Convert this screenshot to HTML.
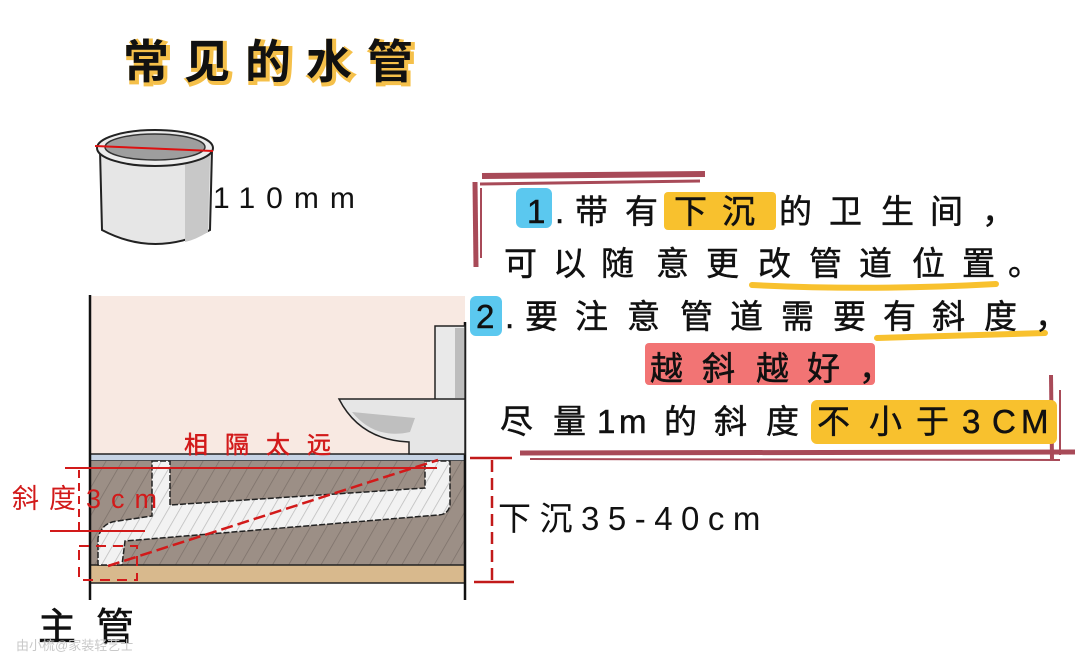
<!DOCTYPE html>
<html><head><meta charset="utf-8"><style>
html,body{margin:0;padding:0;background:#fff;width:1080px;height:670px;overflow:hidden}
svg{display:block}
text{font-family:"Liberation Sans","Noto Sans CJK SC",sans-serif}
</style></head><body>
<svg width="1080" height="670" viewBox="0 0 1080 670" xmlns="http://www.w3.org/2000/svg">
<defs>
<pattern id="h" width="14" height="14" patternUnits="userSpaceOnUse" patternTransform="rotate(30)">
<rect width="14" height="14" fill="#9c8f86"/><line x1="0" y1="0" x2="0" y2="14" stroke="#7d716a" stroke-width="1.5"/></pattern>
<pattern id="hp" width="10" height="10" patternUnits="userSpaceOnUse" patternTransform="rotate(30)">
<rect width="10" height="10" fill="#f2f2f2"/><line x1="0" y1="0" x2="0" y2="10" stroke="#bbb" stroke-width="1.5"/></pattern>
</defs>
<!-- title -->
<text x="125" y="80" font-size="46" font-weight="bold" fill="#f5c04a" letter-spacing="15" stroke="#f5c04a" stroke-width="4">常见的水管</text>
<text x="123" y="78" font-size="46" font-weight="bold" fill="#111" letter-spacing="15">常见的水管</text>
<!-- cup -->
<path d="M100 150 L102 230 Q155 258 210 230 L212 150 Z" fill="#e6e6e6" stroke="#222" stroke-width="2"/>
<path d="M185 160 L210 155 L208 232 Q195 240 185 242 Z" fill="#c8c8c8"/>
<ellipse cx="155" cy="148" rx="58" ry="18" fill="#ececec" stroke="#222" stroke-width="2"/>
<ellipse cx="155" cy="147" rx="50" ry="13" fill="#9e9e9e" stroke="#333" stroke-width="1.5"/>
<line x1="95" y1="146" x2="213" y2="151" stroke="#d11" stroke-width="2"/>
<text x="213" y="208" font-size="30" fill="#111" letter-spacing="11">110mm</text>
<!-- room -->
<rect x="90" y="296" width="375" height="160" fill="#f8e9e2"/>
<rect x="90" y="454" width="375" height="7" fill="#c6d3e4" stroke="#222" stroke-width="1.5"/>
<rect x="90" y="461" width="375" height="104" fill="url(#h)"/>
<rect x="90" y="565" width="375" height="18" fill="#d8b98d" stroke="#222" stroke-width="1.5"/>
<line x1="90" y1="295" x2="90" y2="600" stroke="#111" stroke-width="2.5"/>
<line x1="465" y1="322" x2="465" y2="600" stroke="#111" stroke-width="2.5"/>
<!-- pipes -->
<path d="M152 461 L170 461 L170 505 L425 488 L425 461 L450 461 L450 505 Q448 515 438 515 L125 541 L122 565 L98 565 L98 538 Q102 522 118 521 L152 516 Z" fill="url(#hp)" stroke="#222" stroke-width="1.5" stroke-dasharray="6 2"/>
<!-- toilet -->
<rect x="435" y="326" width="30" height="74" fill="#e9e9e9" stroke="#222" stroke-width="1.5"/>
<rect x="455" y="328" width="9" height="70" fill="#bdbdbd"/>
<path d="M339 399 L465 399 L465 454 L409 454 L409 442 Q360 440 339 399 Z" fill="#e6e6e6" stroke="#222" stroke-width="1.5"/>
<path d="M352 412 Q375 440 410 432 L415 418 Z" fill="#bfbfbf"/>
<!-- red annotations -->
<text x="184" y="453" font-size="24" fill="#d21a1a" letter-spacing="17" stroke="#d21a1a" stroke-width="0.5">相隔太远</text>
<line x1="65" y1="468" x2="437" y2="468" stroke="#d21a1a" stroke-width="2"/>
<line x1="50" y1="531" x2="145" y2="531" stroke="#d21a1a" stroke-width="2"/>
<line x1="79" y1="470" x2="79" y2="530" stroke="#d21a1a" stroke-width="2" stroke-dasharray="8 5"/>
<line x1="108" y1="566" x2="438" y2="460" stroke="#d21a1a" stroke-width="2.5" stroke-dasharray="12 5"/>
<rect x="79" y="546" width="58" height="34" fill="none" stroke="#d21a1a" stroke-width="2" stroke-dasharray="10 7"/>
<text x="12" y="508" font-size="27" fill="#d21a1a" letter-spacing="10">斜度3cm</text>
<line x1="492" y1="460" x2="492" y2="582" stroke="#c21a1a" stroke-width="2.5" stroke-dasharray="12 6"/>
<line x1="470" y1="458" x2="512" y2="458" stroke="#c21a1a" stroke-width="2.5"/>
<line x1="474" y1="582" x2="514" y2="582" stroke="#c21a1a" stroke-width="2.5"/>
<text x="498" y="530" font-size="33" fill="#111" letter-spacing="8.5">下沉35-40cm</text>
<text x="38" y="640" font-size="38" fill="#111" letter-spacing="20" stroke="#111" stroke-width="0.6">主管</text>
<text x="16" y="650" font-size="13" fill="#c8c8c8">由小梳@家装轻艺士</text>
<!-- right text frame -->
<path d="M482 176 L705 174" stroke="#a84a58" stroke-width="6" fill="none"/>
<path d="M480 184 L700 181" stroke="#a84a58" stroke-width="3" fill="none"/>
<path d="M475 182 L476 267" stroke="#a84a58" stroke-width="5" fill="none"/>
<path d="M481 188 L481 258" stroke="#a84a58" stroke-width="2" fill="none"/>
<path d="M520 453 L1075 452" stroke="#a84a58" stroke-width="5" fill="none"/>
<path d="M530 459 L1060 460" stroke="#a84a58" stroke-width="2" fill="none"/>
<path d="M1051 375 L1052 460" stroke="#a84a58" stroke-width="4" fill="none"/>
<path d="M1060 390 L1060 455" stroke="#a84a58" stroke-width="2" fill="none"/>
<!-- highlights -->
<rect x="516" y="188" width="36" height="40" rx="6" fill="#5bc8ef"/>
<rect x="664" y="192" width="112" height="38" rx="4" fill="#f8c12e"/>
<path d="M752 285 Q870 291 996 284" stroke="#f8c12e" stroke-width="6" fill="none" stroke-linecap="round"/>
<rect x="470" y="296" width="32" height="40" rx="6" fill="#5bc8ef"/>
<path d="M877 338 L1045 333" stroke="#f8c12e" stroke-width="6" fill="none" stroke-linecap="round"/>
<rect x="645" y="343" width="230" height="42" rx="4" fill="#f27474"/>
<rect x="811" y="400" width="246" height="44" rx="6" fill="#f8c12e"/>
<!-- text lines -->
<g font-size="33" fill="#111" stroke="#111" stroke-width="0.5">
<text y="223"><tspan x="527">1</tspan><tspan x="555">.</tspan><tspan x="575">带</tspan><tspan x="625">有</tspan><tspan x="674">下</tspan><tspan x="722">沉</tspan><tspan x="779">的</tspan><tspan x="829">卫</tspan><tspan x="881">生</tspan><tspan x="930">间</tspan><tspan x="982">，</tspan></text>
<text y="275"><tspan x="504">可</tspan><tspan x="553">以</tspan><tspan x="601">随</tspan><tspan x="656">意</tspan><tspan x="706">更</tspan><tspan x="758">改</tspan><tspan x="809">管</tspan><tspan x="859">道</tspan><tspan x="912">位</tspan><tspan x="962">置</tspan><tspan x="1008">。</tspan></text>
<text y="328"><tspan x="476">2</tspan><tspan x="505">.</tspan><tspan x="525">要</tspan><tspan x="575">注</tspan><tspan x="627">意</tspan><tspan x="680">管</tspan><tspan x="730">道</tspan><tspan x="781">需</tspan><tspan x="833">要</tspan><tspan x="883">有</tspan><tspan x="932">斜</tspan><tspan x="984">度</tspan><tspan x="1035">，</tspan></text>
<text y="380"><tspan x="650">越</tspan><tspan x="702">斜</tspan><tspan x="756">越</tspan><tspan x="807">好</tspan><tspan x="859">，</tspan></text>
<text y="433"><tspan x="500">尽</tspan><tspan x="553">量</tspan><tspan x="597">1</tspan><tspan x="619">m</tspan><tspan x="664">的</tspan><tspan x="714">斜</tspan><tspan x="766">度</tspan><tspan x="817">不</tspan><tspan x="869">小</tspan><tspan x="916">于</tspan><tspan x="962">3</tspan><tspan x="992">C</tspan><tspan x="1021">M</tspan></text>
</g>
</svg>
</body></html>
